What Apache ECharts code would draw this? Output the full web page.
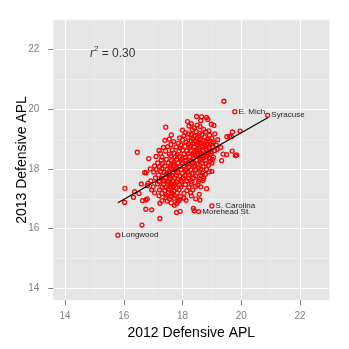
<!DOCTYPE html>
<html><head><meta charset="utf-8">
<script src="https://cdn.jsdelivr.net/npm/echarts@6/dist/echarts.min.js"></script>
<style>html,body{margin:0;padding:0;background:#fff}#c{width:349px;height:349px}</style>
</head><body><div id="c"></div>
<script>
const xTicks = [14, 16, 18, 20, 22];
const yTicks = [14, 16, 18, 20, 22];
const xTitle = '2012 Defensive APL';
const yTitle = '2013 Defensive APL';
// [2012 APL, 2013 APL]
const points = [
[19.41,20.27],
[18.48,19.76],[18.65,19.75],[18.82,19.73],[18.86,19.66],
[18.17,19.59],[18.62,19.62],[18.3,19.52],[18.98,19.5],
[17.43,19.40],[18.22,19.44],[18.5,19.47],[18.6,19.42],[19.07,19.46],[18.4,19.38],
[18.0,19.3],[18.33,19.32],[18.72,19.33],[18.9,19.28],
[18.1,19.22],[18.47,19.25],[18.58,19.2],[18.8,19.24],[19.7,19.24],[19.96,19.27],[18.2,19.18],
[17.62,19.14],[18.05,19.12],[18.3,19.16],[18.55,19.1],[18.66,19.15],[18.92,19.13],[19.1,19.18],[19.51,19.08],[18.4,19.1],
[17.55,19.0],[17.9,19.04],[18.18,19.06],[18.35,19.02],[18.5,19.05],[18.75,19.07],[18.85,19.0],[19.0,19.03],[19.6,19.1],[19.66,19.08],[18.6,18.98],
[17.4,18.96],[17.7,18.92],[18.0,18.97],[18.12,18.9],[18.3,18.94],[18.45,18.92],[18.6,18.9],[18.7,18.96],[18.8,18.93],[18.92,18.95],[19.05,18.9],[19.2,18.98],[18.52,18.88],
[17.6,18.82],[17.85,18.86],[17.95,18.8],[18.2,18.84],[18.35,18.86],[18.5,18.82],[18.62,18.85],[18.74,18.8],[18.85,18.84],[18.95,18.82],[19.0,18.86],[19.15,18.8],[18.28,18.78],[18.68,18.78],
[17.35,18.72],[17.5,18.75],[17.78,18.74],[17.92,18.7],[18.08,18.76],[18.25,18.72],[18.4,18.74],[18.55,18.7],[18.66,18.73],[18.78,18.76],[18.9,18.7],[19.02,18.74],[19.3,18.72],[18.48,18.66],[18.82,18.66],
[17.2,18.62],[17.42,18.6],[17.65,18.64],[17.88,18.6],[18.0,18.63],[18.15,18.6],[18.3,18.62],[18.45,18.58],[18.58,18.64],[18.7,18.6],[18.8,18.62],[18.96,18.58],[19.1,18.62],[19.18,18.66],[18.38,18.55],[18.62,18.54],[18.88,18.55],
[16.46,18.56],[17.25,18.52],[17.55,18.5],[17.72,18.52],[17.82,18.48],[18.05,18.5],[18.2,18.52],[18.35,18.48],[18.5,18.5],[18.6,18.46],[18.75,18.5],[18.85,18.48],[18.98,18.52],[19.69,18.6],[19.38,18.5],[18.42,18.44],[18.68,18.44],
[17.1,18.42],[17.3,18.4],[17.6,18.44],[17.75,18.4],[17.9,18.42],[18.1,18.38],[18.25,18.42],[18.38,18.36],[18.55,18.4],[18.72,18.38],[18.82,18.42],[18.92,18.36],[19.05,18.4],[19.5,18.48],[19.8,18.45],[19.84,18.47],[18.62,18.34],[17.98,18.34],
[16.85,18.35],[17.28,18.3],[17.45,18.32],[17.62,18.28],[17.8,18.32],[17.95,18.28],[18.12,18.3],[18.3,18.26],[18.48,18.3],[18.6,18.26],[18.78,18.3],[18.95,18.26],[19.02,18.32],[18.2,18.22],[17.7,18.22],
[17.15,18.2],[17.32,18.18],[17.52,18.2],[17.7,18.16],[17.85,18.2],[18.0,18.18],[18.18,18.16],[18.35,18.2],[18.5,18.16],[18.65,18.2],[18.8,18.18],[19.0,18.2],[19.33,18.28],[17.6,18.12],[18.42,18.12],
[17.05,18.1],[17.22,18.08],[17.4,18.1],[17.58,18.06],[17.72,18.1],[17.9,18.08],[18.05,18.1],[18.22,18.06],[18.38,18.08],[18.55,18.04],[18.7,18.08],[18.88,18.12],[17.8,18.02],[18.12,18.0],
[16.9,18.0],[17.1,17.98],[17.3,18.02],[17.48,17.98],[17.62,18.0],[17.76,17.96],[17.95,17.98],[18.1,17.94],[18.28,17.98],[18.45,17.96],[18.62,18.0],[18.82,17.98],[19.0,17.92],[17.55,17.92],
[17.02,17.9],[17.25,17.92],[17.38,17.88],[17.55,17.86],[17.68,17.9],[17.82,17.88],[18.0,17.86],[18.18,17.9],[18.32,17.84],[18.5,17.88],[18.68,17.86],[18.9,17.9],[17.45,17.82],
[16.71,17.88],[16.76,17.87],[17.18,17.8],[17.32,17.78],[17.5,17.8],[17.65,17.76],[17.78,17.8],[17.9,17.76],[18.08,17.78],[18.25,17.8],[18.45,17.76],[18.62,17.8],[18.78,17.82],[17.58,17.72],
[17.08,17.7],[17.28,17.68],[17.42,17.7],[17.58,17.66],[17.72,17.7],[17.85,17.66],[18.02,17.7],[18.2,17.68],[18.38,17.7],[18.58,17.64],[18.72,17.68],[17.95,17.62],[17.35,17.62],
[16.92,17.6],[17.2,17.58],[17.38,17.6],[17.52,17.56],[17.66,17.6],[17.8,17.56],[17.98,17.58],[18.15,17.6],[18.32,17.56],[18.55,17.58],[18.7,17.62],[17.6,17.52],
[16.6,17.5],[16.82,17.52],[17.15,17.5],[17.35,17.48],[17.5,17.5],[17.62,17.46],[17.75,17.5],[17.9,17.46],[18.1,17.48],[18.3,17.5],[18.52,17.46],[17.7,17.42],
[16.8,17.44],[17.0,17.4],[17.3,17.4],[17.45,17.38],[17.6,17.4],[17.78,17.36],[17.95,17.4],[18.22,17.38],[18.45,17.42],[18.62,17.4],[17.52,17.32],
[16.04,17.35],[16.95,17.3],[17.22,17.3],[17.4,17.28],[17.55,17.3],[17.7,17.26],[17.88,17.3],[18.15,17.28],[18.35,17.3],[18.82,17.34],[17.62,17.22],
[16.37,17.24],[17.05,17.2],[17.3,17.18],[17.5,17.2],[17.65,17.16],[17.82,17.2],[18.05,17.18],[18.28,17.2],
[16.52,17.18],[17.2,17.1],[17.45,17.12],[17.6,17.08],[17.75,17.1],[17.92,17.07],[18.3,17.1],[18.57,17.15],
[16.33,17.05],[16.8,17.0],[17.43,17.04],[17.55,17.0],[17.72,17.02],[17.9,16.98],[18.05,17.02],[18.45,17.0],
[16.64,16.94],[16.75,16.96],[17.3,16.94],[17.48,16.92],[17.85,16.92],[18.12,16.95],[18.59,16.96],
[16.03,16.88],[17.23,16.85],[17.62,16.86],[17.8,16.84],
[17.72,16.78],[18.37,16.68],
[16.75,16.65],[16.95,16.63],[18.4,16.6],
[17.8,16.54],[17.92,16.58],
[17.23,16.34],[16.62,16.12]
];
const labelNames = ['Longwood', 'Syracuse', 'E. Mich.', 'S. Carolina', 'Morehead St.'];
const labelX = [15.8, 20.9, 19.78, 19.0, 18.55];
const labelY = [15.78, 19.8, 19.92, 16.76, 16.57];
const fitX = [15.8, 20.9];
const fitY = [16.87, 19.72];
const annotationPos = [14.85, 21.88];

const FONT = 'Liberation Sans, Arial, sans-serif';
const T = 'rgba(0,0,0,0)';
const majorColors = [T, T, '#ffffff', T, T, T, T, T, T, T];
const minorColors = [T, T, T, T, T, T, T, '#f2f2f2', T, T];

function gridAxis(colors, width) {
  return {
    type: 'value', min: 13.6, max: 23, interval: 0.2, show: true,
    axisLine: {show: false}, axisTick: {show: false}, axisLabel: {show: false},
    splitLine: {show: true, lineStyle: {color: colors, width: width}}
  };
}

const chart = echarts.init(document.getElementById('c'), null, {renderer: 'canvas'});
chart.setOption({
  animation: false,
  backgroundColor: '#ffffff',
  grid: {left: 53.25, right: 19.6, top: 19.85, bottom: 48.8, outerBoundsMode: 'none', containLabel: false,
    show: true, backgroundColor: '#e5e5e5', borderWidth: 0},
  xAxis: [
    {
      type: 'value', min: 13.6, max: 23, position: 'bottom',
      axisLine: {show: false},
      axisTick: {show: true, customValues: xTicks, length: 5, lineStyle: {color: '#7f7f7f', width: 1}},
      axisLabel: {customValues: xTicks, color: '#7f7f7f', fontSize: 10, margin: 11, fontFamily: FONT},
      splitLine: {show: false},
      name: xTitle, nameLocation: 'middle', nameGap: 26,
      nameTextStyle: {fontSize: 14, color: '#000', fontFamily: FONT}
    },
    gridAxis(minorColors, 0.6),
    gridAxis(majorColors, 1.1)
  ],
  yAxis: [
    {
      type: 'value', min: 13.6, max: 23, position: 'left',
      axisLine: {show: false},
      axisTick: {show: true, customValues: yTicks, length: 5, lineStyle: {color: '#7f7f7f', width: 1}},
      axisLabel: {customValues: yTicks, color: '#7f7f7f', fontSize: 10, margin: 14, fontFamily: FONT},
      splitLine: {show: false},
      name: yTitle, nameLocation: 'middle', nameGap: 24, nameMoveOverlap: false,
      nameTextStyle: {fontSize: 14, color: '#000', fontFamily: FONT}
    },
    gridAxis(minorColors, 0.6),
    gridAxis(majorColors, 1.1)
  ],
  series: [
    {
      type: 'scatter', xAxisIndex: 0, yAxisIndex: 0, data: points,
      symbol: 'circle', symbolSize: 4,
      itemStyle: {color: T, borderColor: '#ff0000', borderWidth: 1.3, opacity: 1},
      z: 3
    },
    {
      type: 'scatter', xAxisIndex: 0, yAxisIndex: 0,
      data: labelNames.map((n, i) => [labelX[i], labelY[i], n]),
      symbol: 'circle', symbolSize: 4,
      itemStyle: {color: T, borderColor: '#ff0000', borderWidth: 1.3, opacity: 1},
      label: {show: true, position: 'right', distance: 1, formatter: p => p.value[2],
        fontSize: 8, color: '#222', fontFamily: FONT},
      z: 4
    },
    {
      type: 'line', xAxisIndex: 0, yAxisIndex: 0,
      data: fitX.map((x, i) => [x, fitY[i]]),
      showSymbol: false, symbol: 'none',
      lineStyle: {color: '#000', width: 1.1}, z: 5
    },
    {
      type: 'scatter', xAxisIndex: 0, yAxisIndex: 0,
      data: [annotationPos], symbolSize: 0,
      label: {show: true, position: 'right', distance: 0,
        formatter: '{i|r}{s|2}{n| = 0.30}',
        rich: {
          i: {fontStyle: 'italic', fontSize: 12, color: '#000', fontFamily: FONT, lineHeight: 16},
          s: {fontSize: 8, color: '#000', fontFamily: FONT, verticalAlign: 'top', lineHeight: 16},
          n: {fontSize: 12, color: '#000', fontFamily: FONT, lineHeight: 16}
        }
      },
      z: 6
    }
  ]
});
</script></body></html>
